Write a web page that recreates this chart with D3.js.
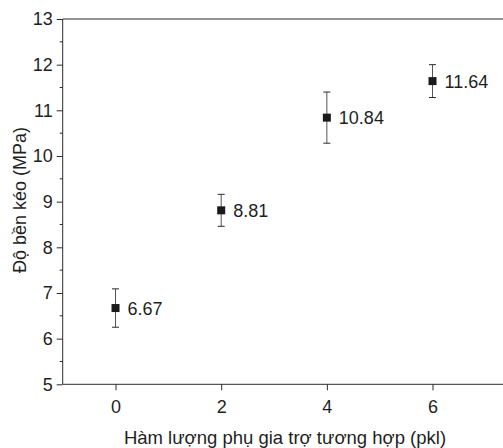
<!DOCTYPE html>
<html>
<head>
<meta charset="utf-8">
<script src="https://cdn.jsdelivr.net/npm/d3@7"></script>
<style>
  html, body { margin: 0; padding: 0; background: #fff; }
  svg { display: block; font-family: "Liberation Sans", Arial, sans-serif; }
</style>
</head>
<body>
<svg id="chart" width="503" height="448"></svg>
<script>
// data
const contents = [0, 2, 4, 6];
const strengths = [6.67, 8.81, 10.84, 11.64];
const errors = [0.42, 0.35, 0.56, 0.36];
const yTicks = [5, 6, 7, 8, 9, 10, 11, 12, 13];
const xTicks = [0, 2, 4, 6];

const W = 503, H = 448;
const m = { top: 19, left: 62.7, bottom: 384.3 };
const fs = 18;

const svg = d3.select("#chart");

const x = d3.scaleLinear().domain([-1, 7.5]).range([m.left, m.left + 8.5 * 52.83]);
const y = d3.scaleLinear().domain([5, 13]).range([m.bottom, m.top]);

const ink = "#2b2b2b";
const txt = "#1f1f1f";

// top frame line (runs off the right edge, no right border)
svg.append("line")
  .attr("x1", m.left).attr("x2", W + 5)
  .attr("y1", m.top).attr("y2", m.top)
  .attr("stroke", ink).attr("stroke-width", 1);

// y axis with minor ticks
const yMinor = d3.range(5.5, 13, 1);
const gy = svg.append("g").attr("transform", `translate(${m.left},0)`);
gy.call(d3.axisLeft(y).tickValues(yTicks).tickSize(6).tickPadding(4).tickFormat(d3.format("d")));
gy.selectAll(".tick line").attr("stroke", ink);
gy.select(".domain").attr("stroke", ink).attr("d", `M0,${m.bottom}V${m.top}`);
gy.selectAll(".tick text").attr("font-size", fs).attr("fill", txt)
  .attr("font-family", "Liberation Sans, Arial, sans-serif");
gy.selectAll("line.minor").data(yMinor).join("line")
  .attr("class", "minor")
  .attr("x1", -3).attr("x2", 0)
  .attr("y1", d => y(d)).attr("y2", d => y(d))
  .attr("stroke", ink);

// x axis
const gx = svg.append("g").attr("transform", `translate(0,${m.bottom})`);
gx.call(d3.axisBottom(x).tickValues(xTicks).tickSize(6).tickPadding(10).tickFormat(d3.format("d")));
gx.select(".domain").attr("stroke", ink).attr("d", `M${m.left},0H${W + 5}`);
gx.selectAll(".tick line").attr("stroke", ink);
gx.selectAll(".tick text").attr("font-size", fs).attr("fill", txt)
  .attr("font-family", "Liberation Sans, Arial, sans-serif");

// axis titles
svg.append("text")
  .attr("x", 285).attr("y", 444)
  .attr("text-anchor", "middle")
  .attr("font-size", 18.5).attr("fill", txt)
  .text("Hàm lượng phụ gia trợ tương hợp (pkl)");

svg.append("text")
  .attr("transform", "translate(26,200) rotate(-90)")
  .attr("text-anchor", "middle")
  .attr("font-size", fs).attr("fill", txt)
  .text("Độ bền kéo (MPa)");

// points with error bars
const pts = contents.map((c, i) => ({ c, v: strengths[i], e: errors[i] }));
const g = svg.selectAll("g.pt").data(pts).join("g").attr("class", "pt");

g.append("line")
  .attr("x1", d => x(d.c)).attr("x2", d => x(d.c))
  .attr("y1", d => y(d.v + d.e)).attr("y2", d => y(d.v - d.e))
  .attr("stroke", "#555").attr("stroke-width", 1);
g.append("line")
  .attr("x1", d => x(d.c) - 3.5).attr("x2", d => x(d.c) + 3.5)
  .attr("y1", d => y(d.v + d.e)).attr("y2", d => y(d.v + d.e))
  .attr("stroke", ink);
g.append("line")
  .attr("x1", d => x(d.c) - 3.5).attr("x2", d => x(d.c) + 3.5)
  .attr("y1", d => y(d.v - d.e)).attr("y2", d => y(d.v - d.e))
  .attr("stroke", ink);
g.append("rect")
  .attr("x", d => x(d.c) - 4).attr("y", d => y(d.v) - 4)
  .attr("width", 8).attr("height", 8)
  .attr("fill", "#1a1a1a");
g.append("text")
  .attr("x", d => x(d.c) + 12).attr("y", d => y(d.v))
  .attr("dy", "0.36em")
  .attr("font-size", fs).attr("fill", txt)
  .text(d => d.v.toFixed(2));
</script>
</body>
</html>
